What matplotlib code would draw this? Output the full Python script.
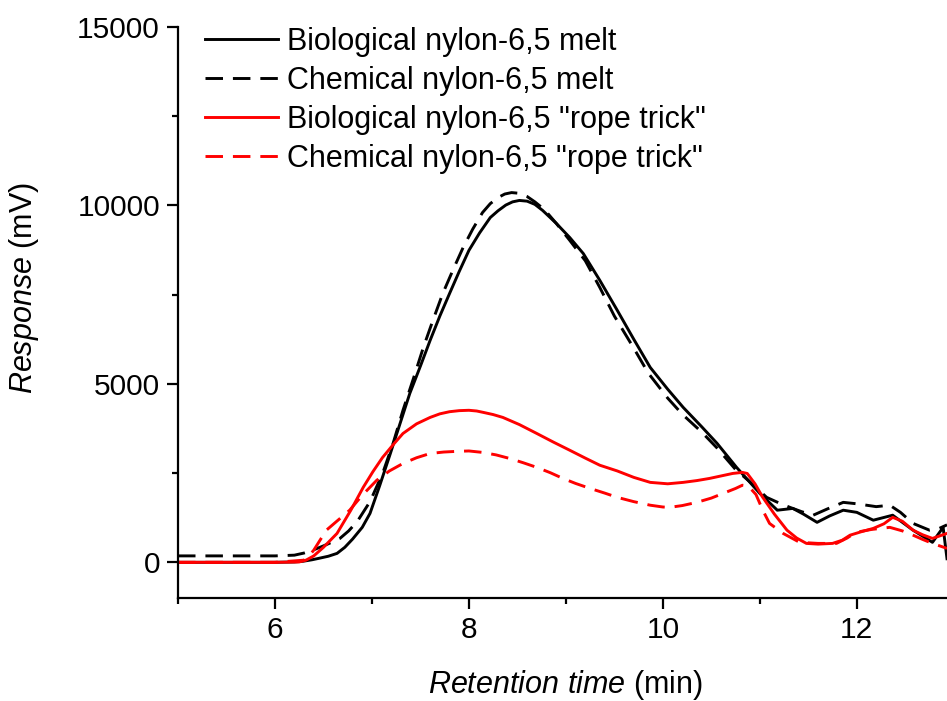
import matplotlib
matplotlib.use('Agg')
from matplotlib import pyplot as plt
from matplotlib.ticker import MultipleLocator

plt.rcParams['font.family'] = ['Liberation Sans', 'DejaVu Sans']
plt.rcParams['mathtext.fontset'] = 'custom'
plt.rcParams['mathtext.it'] = 'Liberation Sans:italic'
plt.rcParams['mathtext.rm'] = 'Liberation Sans'

# retention time (min) / response (mV)
bio_melt_t = [5.0, 6.0, 6.2, 6.29, 6.38, 6.45, 6.55, 6.64, 6.72, 6.8, 6.9, 6.98, 7.08, 7.19, 7.29,
              7.39, 7.5, 7.6, 7.7, 7.8, 7.9, 8.0, 8.11, 8.22, 8.3, 8.38, 8.45, 8.52, 8.6, 8.68,
              8.76, 8.9, 9.04, 9.18, 9.35, 9.53, 9.7, 9.87, 10.05, 10.21, 10.4, 10.56,
              10.76, 11.0, 11.18, 11.34, 11.45, 11.59, 11.72, 11.86, 12.0, 12.17, 12.37, 12.58,
              12.78, 12.89, 12.93]
bio_melt_r = [0, 0, 10, 30, 70, 110, 170, 250, 420, 650, 980, 1370, 2150, 3050, 3890,
              4730, 5500, 6220, 6900, 7530, 8150, 8740, 9230, 9660, 9850, 10010, 10100, 10140, 10120, 10030,
              9860, 9500, 9100, 8650, 7900, 7060, 6250, 5460, 4850, 4340, 3800, 3330,
              2660, 1930, 1460, 1510, 1350, 1120, 1300, 1460, 1400, 1180, 1320, 900,
              560, 980, 100]

chem_melt_t = [5.0, 6.0, 6.2, 6.3, 6.39, 6.5, 6.6, 6.67, 6.76, 6.85, 6.98, 7.11, 7.22, 7.32, 7.43,
               7.53, 7.63, 7.73, 7.84, 7.94, 8.04, 8.14, 8.22, 8.3, 8.37, 8.44, 8.52, 8.6, 8.68,
               8.78, 8.9, 9.04, 9.2, 9.35, 9.5, 9.7, 9.85, 10.05, 10.2, 10.4, 10.56, 10.75, 10.9,
               11.07, 11.2, 11.31, 11.43, 11.55, 11.7, 11.86, 12.0, 12.1, 12.2, 12.34, 12.45,
               12.58, 12.75, 12.85, 12.93]
chem_melt_r = [180, 180, 200, 260, 340, 460, 580, 670, 880, 1150, 1700, 2490, 3350, 4260, 5170,
               6020, 6790, 7530, 8220, 8820, 9340, 9800, 10050, 10220, 10320, 10360, 10340, 10250, 10100,
               9880, 9500, 9020, 8450, 7700, 6900, 6000, 5300, 4600, 4150, 3650, 3200, 2600, 2250,
               1820, 1660, 1540, 1420, 1320, 1500, 1680, 1640, 1600, 1560, 1600, 1400,
               1090, 900, 950, 1050]

bio_rope_t = [5.0, 6.0, 6.25, 6.32, 6.4, 6.5, 6.64, 6.78, 6.91, 7.01, 7.11, 7.22, 7.32, 7.46, 7.6,
              7.7, 7.8, 7.9, 8.0, 8.08, 8.15, 8.25, 8.35, 8.52, 8.7, 8.87,
              9.04, 9.2, 9.35, 9.53, 9.7, 9.87, 10.05, 10.21, 10.35, 10.48, 10.6, 10.72, 10.82, 10.87,
              10.95, 11.03, 11.15, 11.28, 11.38, 11.48, 11.6, 11.75, 11.85, 11.93, 12.05, 12.17, 12.28,
              12.37, 12.47, 12.58, 12.68, 12.78, 12.93]
bio_rope_r = [0, 0, 10, 60, 180, 420, 810, 1450, 2100, 2540, 2940, 3300, 3610, 3880, 4060,
              4160, 4220, 4250, 4260, 4240, 4200, 4140, 4060, 3860, 3610, 3370,
              3140, 2920, 2720, 2560, 2380, 2240, 2200, 2240, 2290, 2350, 2420, 2490, 2520, 2490,
              2200, 1820, 1350, 900, 680, 530, 510, 530, 620, 760, 860, 950, 1080,
              1260, 1150, 900, 770, 670, 810]

chem_rope_t = [5.0, 6.0, 6.3, 6.35, 6.4, 6.46, 6.53, 6.65, 6.77, 6.9, 7.05, 7.18, 7.32, 7.46, 7.6,
               7.74, 7.88, 8.0, 8.14, 8.28, 8.42, 8.56, 8.7, 8.84, 8.97,
               9.1, 9.25, 9.4, 9.53, 9.7, 9.87, 10.0, 10.07, 10.2, 10.35, 10.5, 10.62, 10.75, 10.82,
               10.88, 10.96, 11.03, 11.1, 11.24, 11.41, 11.6,
               11.79, 11.9, 11.99, 12.15, 12.34, 12.47, 12.58, 12.68, 12.78, 12.93]
chem_rope_r = [0, 0, 60, 180, 340, 600, 900, 1180, 1460, 1880, 2300, 2560, 2770, 2930, 3050,
               3090, 3110, 3120, 3080, 3010, 2910, 2790, 2660, 2510, 2350,
               2210, 2070, 1940, 1820, 1700, 1600, 1550, 1540, 1590, 1680, 1800, 1930, 2070, 2160,
               2140, 1900, 1460, 1090, 810, 560, 530,
               530, 680, 840, 920, 980, 880, 760, 640, 530, 390]

labels = ['Biological nylon-6,5 melt', 'Chemical nylon-6,5 melt',
          'Biological nylon-6,5 "rope trick"', 'Chemical nylon-6,5 "rope trick"']

fig = plt.figure(figsize=(9.47, 7.01), dpi=100)
ax = fig.add_axes([178 / 947, 103 / 701, 769 / 947, 571 / 701])

dash = (6.0, 3.4)
lw = 2.1
ax.plot(bio_melt_t, bio_melt_r, color='black', lw=lw, label=labels[0])
ax.plot(chem_melt_t, chem_melt_r, color='black', lw=lw, dashes=dash, label=labels[1])
ax.plot(bio_rope_t, bio_rope_r, color='red', lw=lw, label=labels[2])
ax.plot(chem_rope_t, chem_rope_r, color='red', lw=lw, dashes=dash, label=labels[3])

ax.set_xlim(5, 12.93)
ax.set_ylim(-1000, 15000)
ax.xaxis.set_major_locator(MultipleLocator(2))
ax.xaxis.set_minor_locator(MultipleLocator(1))
ax.set_yticks([0, 5000, 10000, 15000])
ax.yaxis.set_minor_locator(MultipleLocator(2500))

for side in ('top', 'right'):
    ax.spines[side].set_visible(False)
for side in ('left', 'bottom'):
    ax.spines[side].set_linewidth(1.6)
ax.tick_params(which='major', direction='out', length=8, width=1.6, labelsize=21.5, pad=5)
ax.tick_params(which='minor', direction='out', length=4.5, width=1.6)

ax.set_xlabel(r'$\mathit{Retention\ time}$ (min)', fontsize=22)
ax.set_ylabel(r'$\mathit{Response}$ (mV)', fontsize=22)
ax.xaxis.set_label_coords(0.504, -0.122)
ax.yaxis.set_label_coords(-0.178, 0.543)

ax.legend(loc='upper left', bbox_to_anchor=(205 / 947, 1 - 27 / 701), bbox_transform=fig.transFigure,
          frameon=False, fontsize=22, handlelength=2.4, handletextpad=0.28, labelspacing=0.29,
          borderpad=0, borderaxespad=0)

fig.savefig('out.png', dpi=100)
